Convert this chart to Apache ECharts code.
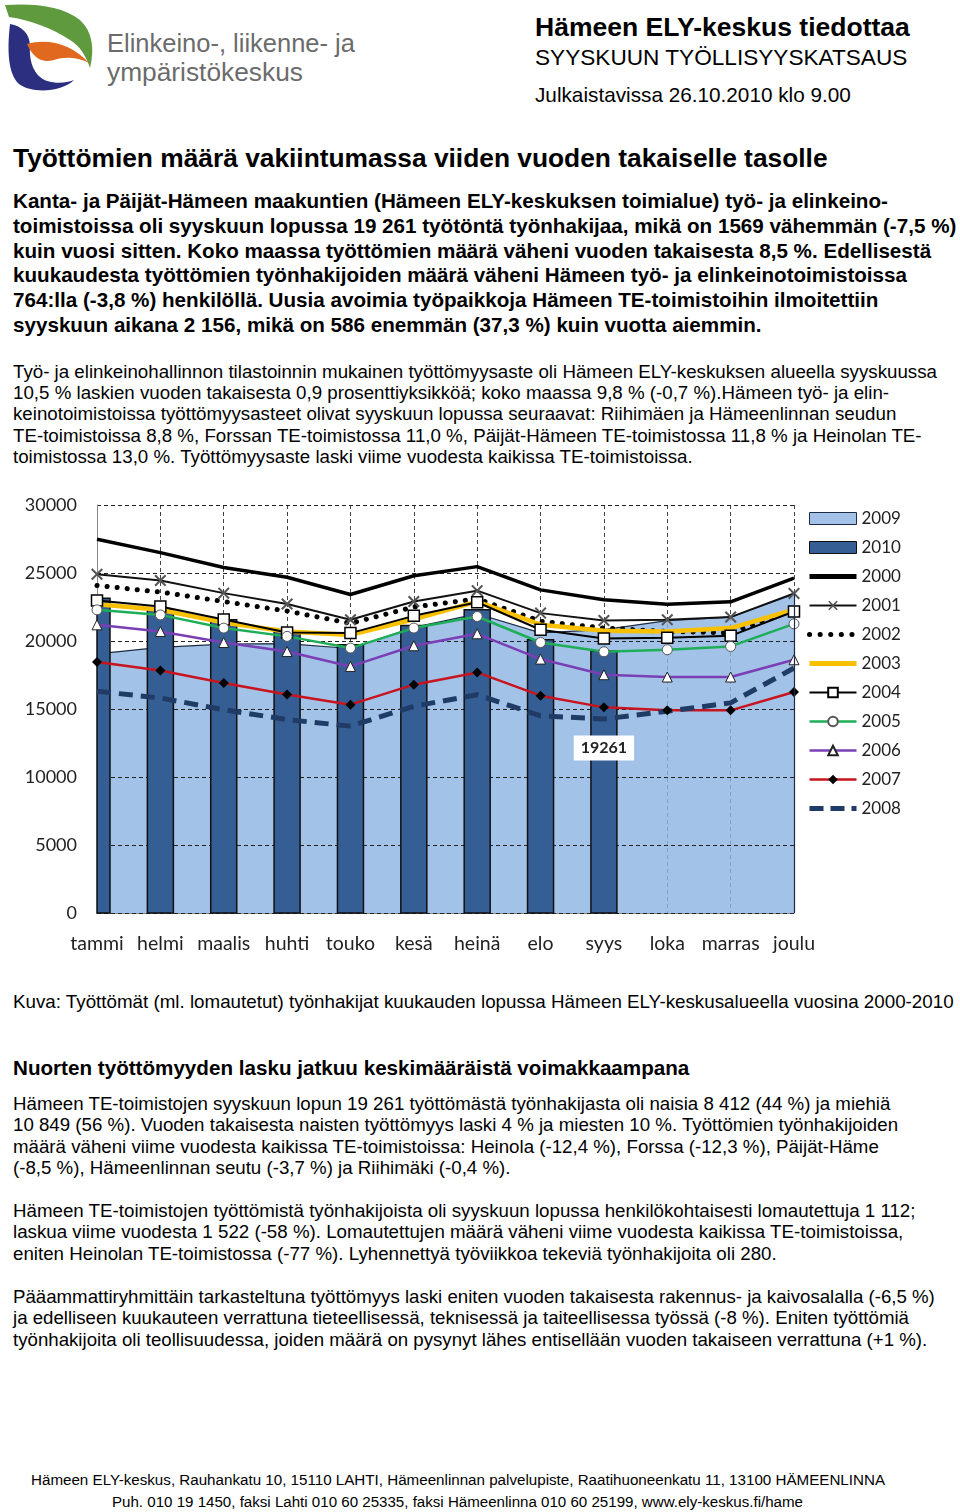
<!DOCTYPE html>
<html><head><meta charset="utf-8">
<script src="https://cdn.jsdelivr.net/npm/echarts@6/dist/echarts.min.js"></script>
<style>
html,body{margin:0;padding:0;background:#fff;}
body{width:960px;height:1512px;position:relative;overflow:hidden;font-family:"Liberation Sans",Arial,sans-serif;color:#000;}
.t{position:absolute;white-space:nowrap;line-height:1;transform-origin:0 50%;}
#chart{position:absolute;left:0;top:490px;width:960px;height:480px;}
#logo{position:absolute;left:0;top:0;}
</style></head><body>
<svg id="logo" width="100" height="100" viewBox="0 0 100 100">
  <path d="M5,5 C35,3 62,6 80,20 C92,31 95,48 90,68 C86,56 80,46 70,40 C52,28 30,20 9,17 Z" fill="#5f9a3e"/>
  <path d="M10,24 C22,26 30,34 30,46 C29,62 34,76 47,81 C57,84 66,83 74,80 C62,92 32,94 19,84 C8,74 7,50 10,24 Z" fill="#2c2f7f"/>
  <path d="M27,44 C48,38 72,44 89,63 C80,58 66,56 54,60 C44,63 34,60 27,44 Z" fill="#e0691f"/>
</svg>
<div id="chart"></div>
<script>
// ---------- chart data ----------
const months = ['tammi','helmi','maalis','huhti','touko','kesä','heinä','elo','syys','loka','marras','joulu'];
const yTicks = [0, 5000, 10000, 15000, 20000, 25000, 30000];
const y2009 = [19060, 19530, 19770, 19800, 19450, 21000, 22000, 20600, 20830, 21500, 21750, 23450];
const y2010 = [23150, 22300, 21560, 20720, 19720, 21140, 22290, 20090, 19261, null, null, null];
const y2000 = [27480, 26500, 25400, 24690, 23420, 24800, 25470, 23760, 23030, 22700, 22880, 24620];
const y2001 = [24910, 24450, 23520, 22720, 21560, 22900, 23700, 22050, 21510, 21560, 21760, 23500];
const y2002 = [24080, 23600, 22900, 22200, 21300, 22500, 23100, 21450, 20950, 20700, 20600, 22300];
const y2003 = [22700, 22300, 21350, 20700, 20450, 21600, 22900, 21200, 20750, 20700, 20950, 22300];
const y2004 = [22980, 22540, 21580, 20630, 20580, 21850, 22850, 20830, 20190, 20240, 20380, 22170];
const y2005 = [22290, 21920, 20950, 20340, 19480, 20950, 21800, 19890, 19210, 19360, 19600, 21260];
const y2006 = [21190, 20700, 19890, 19230, 18130, 19650, 20530, 18670, 17520, 17350, 17350, 18620];
const y2007 = [18450, 17830, 16910, 16060, 15320, 16790, 17690, 15980, 15120, 14900, 14900, 16250];
const y2008 = [16300, 15810, 14950, 14220, 13740, 15200, 16050, 14500, 14270, 14830, 15450, 18010];
const labelMonth = 'syys';

// ---------- page text ----------
const textBlocks = [
 {x:535, right:910, ref:0, ys:[27], weight:'bold', lines:['Hämeen ELY-keskus tiedottaa']},
 {x:535, right:908, ref:0, ys:[58], weight:'normal', lines:['SYYSKUUN TYÖLLISYYSKATSAUS']},
 {x:535, right:851, ref:0, ys:[95], weight:'normal', lines:['Julkaistavissa 26.10.2010 klo 9.00']},
 {x:107, right:355, ref:0, ys:[44], weight:'normal', color:'#6b6b6b', lines:['Elinkeino-, liikenne- ja']},
 {x:107, right:303, ref:0, ys:[72], weight:'normal', color:'#6b6b6b', lines:['ympäristökeskus']},
 {x:13, right:828, ref:0, ys:[158], weight:'bold', lines:['Työttömien määrä vakiintumassa viiden vuoden takaiselle tasolle']},
 {x:13, right:957, ref:1, ys:[201,226,251,275,300,325], weight:'bold', lines:[
  'Kanta- ja Päijät-Hämeen maakuntien (Hämeen ELY-keskuksen toimialue) työ- ja elinkeino-',
  'toimistoissa oli syyskuun lopussa 19 261 työtöntä työnhakijaa, mikä on 1569 vähemmän (-7,5 %)',
  'kuin vuosi sitten. Koko maassa työttömien määrä väheni vuoden takaisesta 8,5 %. Edellisestä',
  'kuukaudesta työttömien työnhakijoiden määrä väheni Hämeen työ- ja elinkeinotoimistoissa',
  '764:lla (-3,8 %) henkilöllä. Uusia avoimia työpaikkoja Hämeen TE-toimistoihin ilmoitettiin',
  'syyskuun aikana 2 156, mikä on 586 enemmän (37,3 %) kuin vuotta aiemmin.']},
 {x:13, right:938, ref:0, ys:[372,393,414,436,457], weight:'normal', lines:[
  'Työ- ja elinkeinohallinnon tilastoinnin mukainen työttömyysaste oli Hämeen ELY-keskuksen alueella syyskuussa',
  '10,5 % laskien vuoden takaisesta 0,9 prosenttiyksikköä; koko maassa 9,8 % (-0,7 %).Hämeen työ- ja elin-',
  'keinotoimistoissa työttömyysasteet olivat syyskuun lopussa seuraavat: Riihimäen ja Hämeenlinnan seudun',
  'TE-toimistoissa 8,8 %, Forssan TE-toimistossa 11,0 %, Päijät-Hämeen TE-toimistossa 11,8 % ja Heinolan TE-',
  'toimistossa 13,0 %. Työttömyysaste laski viime vuodesta kaikissa TE-toimistoissa.']},
 {x:13, right:955, ref:0, ys:[1002], weight:'normal', lines:['Kuva: Työttömät (ml. lomautetut) työnhakijat kuukauden lopussa Hämeen ELY-keskusalueella vuosina 2000-2010']},
 {x:13, right:690, ref:0, ys:[1068], weight:'bold', lines:['Nuorten työttömyyden lasku jatkuu keskimääräistä voimakkaampana']},
 {x:13, right:891, ref:0, ys:[1104,1125,1147,1168], weight:'normal', lines:[
  'Hämeen TE-toimistojen syyskuun lopun 19 261 työttömästä työnhakijasta oli naisia 8 412 (44 %) ja miehiä',
  '10 849 (56 %). Vuoden takaisesta naisten työttömyys laski 4 % ja  miesten 10 %. Työttömien työnhakijoiden',
  'määrä väheni viime vuodesta kaikissa TE-toimistoissa: Heinola (-12,4 %), Forssa (-12,3 %), Päijät-Häme',
  '(-8,5 %),  Hämeenlinnan seutu (-3,7 %) ja Riihimäki (-0,4 %).']},
 {x:13, right:916, ref:0, ys:[1211,1232,1254], weight:'normal', lines:[
  'Hämeen TE-toimistojen työttömistä työnhakijoista oli syyskuun lopussa henkilökohtaisesti lomautettuja 1 112;',
  'laskua viime vuodesta 1 522 (-58 %). Lomautettujen määrä väheni viime vuodesta kaikissa TE-toimistoissa,',
  'eniten Heinolan TE-toimistossa (-77 %). Lyhennettyä työviikkoa tekeviä työnhakijoita oli 280.']},
 {x:13, right:936, ref:0, ys:[1297,1318,1340], weight:'normal', lines:[
  'Pääammattiryhmittäin tarkasteltuna työttömyys laski eniten vuoden takaisesta rakennus- ja kaivosalalla (-6,5 %)',
  'ja edelliseen kuukauteen verrattuna tieteellisessä, teknisessä ja taiteellisessa työssä (-8 %). Eniten työttömiä',
  'työnhakijoita oli teollisuudessa, joiden määrä on pysynyt lähes entisellään vuoden takaiseen verrattuna (+1 %).']}
];
const footerLines = [
 {x:31, right:885, y:1480, text:'Hämeen ELY-keskus, Rauhankatu 10, 15110 LAHTI, Hämeenlinnan palvelupiste, Raatihuoneenkatu 11, 13100 HÄMEENLINNA'},
 {x:112, right:803, y:1502, text:'Puh. 010 19 1450, faksi Lahti 010 60 25335, faksi Hämeenlinna 010 60 25199, www.ely-keskus.fi/hame'}
];

const cv = document.createElement('canvas').getContext('2d');
function measure(text, weight, size){ cv.font = weight+' '+size+'px "Liberation Sans"'; return cv.measureText(text).width; }
function addLine(text, x, yc, fs, weight, color, sx){
  const d = document.createElement('div');
  d.className='t'; d.textContent=text;
  d.style.left=x+'px'; d.style.top=(yc-fs*0.5)+'px'; d.style.fontSize=fs+'px';
  d.style.fontWeight=weight; d.style.color=color||'#000';
  if (sx) d.style.transform='scaleX('+sx+')';
  document.body.appendChild(d);
}
textBlocks.forEach(b=>{
  const w = measure(b.lines[b.ref], b.weight, 100);
  const fs = 100*(b.right-b.x)/w;
  b.lines.forEach((l,i)=>addLine(l, b.x, b.ys[i], fs, b.weight, b.color));
});
footerLines.forEach(f=>{
  const fs = 15.5;
  const w = measure(f.text, 'normal', fs);
  addLine(f.text, f.x, f.y, fs, 'normal', '#000', (f.right-f.x)/w);
});

// ---------- chart ----------
const chart = echarts.init(document.getElementById('chart'), null, {renderer:'canvas'});
const xPath = 'path://M0,1.2L1.2,0L5,3.8L8.8,0L10,1.2L6.2,5L10,8.8L8.8,10L5,6.2L1.2,10L0,8.8L3.8,5Z';
const lbl = {fontFamily:'Lato', fontSize:18, color:'#222'};
const BAR_W = 26;
const styles = {
  '2000': {color:'#000', width:3.5},
  '2001': {color:'#111', width:2},
  '2002': {color:'#000', width:5, type:[0.1,10], cap:'round'},
  '2003': {color:'#f8c000', width:4.5},
  '2004': {color:'#000', width:2},
  '2005': {color:'#1fae58', width:2.5},
  '2006': {color:'#7a3fb5', width:2.5},
  '2007': {color:'#c8141e', width:2.5},
  '2008': {color:'#1f3b66', width:5, type:[14,8]}
};
function lineSeries(name, data, sym){
  const ls = styles[name];
  const s = {name, type:'line', data, z:3, lineStyle: ls, emphasis:{disabled:true}};
  if (sym) { s.symbol = sym.symbol; s.symbolSize = sym.size; s.itemStyle = sym.style; }
  else { s.symbol = 'circle'; s.showSymbol = false; s.itemStyle = {color:'rgba(0,0,0,0)', opacity:0}; }
  return s;
}
function renderBar(params, api){
  const idx = api.value(0), v = api.value(1);
  const top = api.coord([idx, v]), base = api.coord([idx, 0]);
  const cs = params.coordSys;
  const shape = echarts.graphic.clipRectByRect(
    {x: top[0]-BAR_W/2, y: top[1], width: BAR_W, height: base[1]-top[1]},
    {x: cs.x, y: cs.y, width: cs.width, height: cs.height});
  if (!shape) return;
  const children = [{type:'rect', shape, style:{fill:'#355f94', stroke:'#111', lineWidth:1.5}}];
  if (months[idx] === labelMonth) {
    children.push({type:'text', x: top[0], y: top[1] + 97, z2: 10,
      style:{text: String(v), align:'center', verticalAlign:'middle', fill:'#222',
             font:'bold 16px Lato', backgroundColor:'#fff', padding:[5,7,4,7]}});
  }
  return {type:'group', children};
}
const barData = [];
y2010.forEach((v,i)=>{ if (v !== null) barData.push([i, v]); });

const legendLine = (name, extra) => Object.assign({name, lineStyle: Object.assign({}, styles[name])}, extra || {});

const option = {
  animation:false,
  grid:{left:97, right:166, top:15, bottom:57},
  legend:{
    orient:'vertical', left:802, top:15, itemWidth:47, itemHeight:12, itemGap:12,
    textStyle:Object.assign({}, lbl, {fontSize:17}),
    data:[
      {name:'2009', icon:'rect', itemStyle:{color:'#a4c2e8', borderColor:'#1c2c44', borderWidth:1}},
      {name:'2010', icon:'rect', itemStyle:{color:'#355f94', borderColor:'#111', borderWidth:1}},
      legendLine('2000', {lineStyle:{color:'#000', width:5}}),
      legendLine('2001'),
      legendLine('2002', {lineStyle:{color:'#000', width:5, type:[0.1,10.5], cap:'round'}}),
      legendLine('2003', {lineStyle:{color:'#f8c000', width:5}}),
      legendLine('2004'),
      legendLine('2005'),
      legendLine('2006'),
      legendLine('2007'),
      legendLine('2008', {lineStyle:{color:'#1f3b66', width:5, type:[14,7]}})
    ]
  },
  xAxis:{
    type:'category', data:months, boundaryGap:false, z:0,
    axisLine:{lineStyle:{color:'#8a8a8a', width:1}},
    axisTick:{show:false},
    axisLabel:Object.assign({margin:21, interval:0}, lbl, {fontSize:19.5}),
    splitLine:{show:true, interval:0, lineStyle:{type:[4,3], color:'#444', width:1}}
  },
  yAxis:{
    type:'value', min:yTicks[0], max:yTicks[yTicks.length-1], interval:yTicks[1]-yTicks[0], z:1.5,
    axisLine:{show:true, lineStyle:{color:'#8a8a8a', width:1}},
    axisLabel:Object.assign({margin:20, formatter:(v)=>String(v)}, lbl),
    splitLine:{show:true, lineStyle:{type:[4,3], color:'#222', width:1}}
  },
  series:[
    {name:'2009', type:'line', data:y2009, symbol:'none', z:1, emphasis:{disabled:true},
     lineStyle:{color:'#1c2c44', width:1.2}, itemStyle:{color:'#1c2c44'},
     areaStyle:{color:'rgba(141,180,226,0.82)', opacity:1},
     markLine:{silent:true, symbol:'none', label:{show:false}, emphasis:{disabled:true},
       lineStyle:{color:'#1c2c44', width:1.2, type:'solid'},
       data:[[{coord:[months[11], 0]}, {coord:[months[11], y2009[11]]}]]}},
    {name:'2010', type:'custom', z:2, data:barData, encode:{x:0, y:1}, renderItem:renderBar,
     itemStyle:{color:'#355f94'}, emphasis:{disabled:true}},
    lineSeries('2000', y2000),
    lineSeries('2001', y2001, {symbol:xPath, size:12, style:{color:'#555'}}),
    lineSeries('2002', y2002),
    lineSeries('2003', y2003),
    lineSeries('2004', y2004, {symbol:'rect', size:11, style:{color:'#fff', borderColor:'#000', borderWidth:1.5}}),
    lineSeries('2005', y2005, {symbol:'circle', size:10, style:{color:'#fff', borderColor:'#555', borderWidth:1}}),
    lineSeries('2006', y2006, {symbol:'triangle', size:10, style:{color:'#fff', borderColor:'#222', borderWidth:1}}),
    lineSeries('2007', y2007, {symbol:'diamond', size:10, style:{color:'#000'}}),
    lineSeries('2008', y2008)
  ]
};
chart.setOption(option);
</script>
</body></html>
